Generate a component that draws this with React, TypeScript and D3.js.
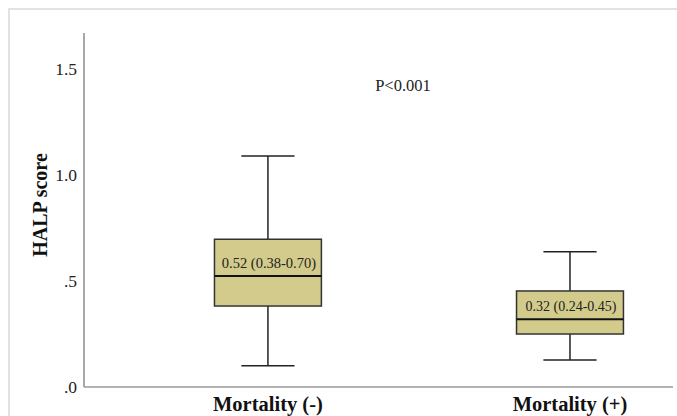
import React, { useEffect, useRef } from "react";
import * as d3 from "d3";

// group order along the x axis
const categories = ["Mortality (-)", "Mortality (+)"];
// five-number summaries
const whiskerLow = [0.1, 0.127];
const q1 = [0.382, 0.25];
const medians = [0.524, 0.32];
const q3 = [0.697, 0.453];
const whiskerHigh = [1.09, 0.638];
// text printed inside each box
const boxLabels = ["0.52 (0.38-0.70)", "0.32 (0.24-0.45)"];
const yTicks = [0, 0.5, 1.0, 1.5];
const tickText = [".0", ".5", "1.0", "1.5"];

const W = 677;
const H = 416;
const serif = "'Liberation Serif', 'Times New Roman', serif";

const App = () => {
  const ref = useRef<SVGSVGElement>(null);

  useEffect(() => {
    const svg = d3.select(ref.current);
    svg.selectAll("*").remove();

    const left = 84;
    const right = 673;
    const bottom = 387;
    const top = 33;

    const y = d3.scaleLinear().domain([0, 1.67]).range([bottom, top]);
    const x = d3
      .scalePoint()
      .domain(categories)
      .range([left, right])
      .padding(0.475)
      .align(0.641);
    const step = x.step();
    const boxW = step * 0.354;
    const capW = step * 0.176;

    // outer frame
    svg
      .append("rect")
      .attr("x", 9)
      .attr("y", 9)
      .attr("width", W + 20)
      .attr("height", H + 20)
      .attr("fill", "none")
      .attr("stroke", "#e2e2e2")
      .attr("stroke-width", 2);

    // axes lines
    svg
      .append("line")
      .attr("x1", left)
      .attr("x2", left)
      .attr("y1", top)
      .attr("y2", bottom)
      .attr("stroke", "#7a7a7a")
      .attr("stroke-width", 1.3);
    svg
      .append("line")
      .attr("x1", left)
      .attr("x2", right)
      .attr("y1", bottom)
      .attr("y2", bottom)
      .attr("stroke", "#9a9a9a")
      .attr("stroke-width", 1.3);

    // y tick labels
    svg
      .selectAll("text.ytick")
      .data(yTicks)
      .enter()
      .append("text")
      .attr("class", "ytick")
      .attr("x", 77)
      .attr("y", (d) => y(d) + 6)
      .attr("text-anchor", "end")
      .attr("font-family", serif)
      .attr("font-size", 17.5)
      .attr("fill", "#222")
      .text((d, i) => tickText[i]);

    // y title
    svg
      .append("text")
      .attr("transform", `translate(47,205) rotate(-90)`)
      .attr("text-anchor", "middle")
      .attr("font-family", serif)
      .attr("font-weight", "bold")
      .attr("font-size", 20)
      .attr("fill", "#111")
      .text("HALP score");

    // x category labels
    svg
      .selectAll("text.xcat")
      .data(categories)
      .enter()
      .append("text")
      .attr("class", "xcat")
      .attr("x", (d) => x(d)!)
      .attr("y", 411)
      .attr("text-anchor", "middle")
      .attr("font-family", serif)
      .attr("font-weight", "bold")
      .attr("font-size", 20.5)
      .attr("fill", "#111")
      .text((d) => d);

    const g = svg
      .selectAll("g.box")
      .data(categories)
      .enter()
      .append("g")
      .attr("class", "box");

    // whisker stems
    g.append("line")
      .attr("x1", (d) => x(d)!)
      .attr("x2", (d) => x(d)!)
      .attr("y1", (d, i) => y(whiskerHigh[i]))
      .attr("y2", (d, i) => y(whiskerLow[i]))
      .attr("stroke", "#222")
      .attr("stroke-width", 1.5);

    // caps
    [whiskerHigh, whiskerLow].forEach((arr) => {
      g.append("line")
        .attr("x1", (d) => x(d)! - capW / 2)
        .attr("x2", (d) => x(d)! + capW / 2)
        .attr("y1", (d, i) => y(arr[i]))
        .attr("y2", (d, i) => y(arr[i]))
        .attr("stroke", "#222")
        .attr("stroke-width", 1.5);
    });

    // boxes
    g.append("rect")
      .attr("x", (d) => x(d)! - boxW / 2)
      .attr("y", (d, i) => y(q3[i]))
      .attr("width", boxW)
      .attr("height", (d, i) => y(q1[i]) - y(q3[i]))
      .attr("fill", "#d3cb8b")
      .attr("stroke", "#333")
      .attr("stroke-width", 1.5);

    // medians
    g.append("line")
      .attr("x1", (d) => x(d)! - boxW / 2)
      .attr("x2", (d) => x(d)! + boxW / 2)
      .attr("y1", (d, i) => y(medians[i]))
      .attr("y2", (d, i) => y(medians[i]))
      .attr("stroke", "#111")
      .attr("stroke-width", 2);

    // box labels
    g.append("text")
      .attr("x", (d) => x(d)! + 1)
      .attr("y", (d, i) => y(medians[i]) - 8)
      .attr("text-anchor", "middle")
      .attr("font-family", serif)
      .attr("font-size", (d, i) => (i === 0 ? 14.5 : 14))
      .attr("fill", "#222")
      .text((d, i) => boxLabels[i]);

    // p value
    svg
      .append("text")
      .attr("x", 403)
      .attr("y", 91)
      .attr("text-anchor", "middle")
      .attr("font-family", serif)
      .attr("font-size", 16.5)
      .attr("fill", "#222")
      .text("P<0.001");
  }, []);

  return (
    <svg
      ref={ref}
      width={W}
      height={H}
      style={{ position: "absolute", left: 0, top: 0, background: "#fff" }}
    />
  );
};

export default App;
